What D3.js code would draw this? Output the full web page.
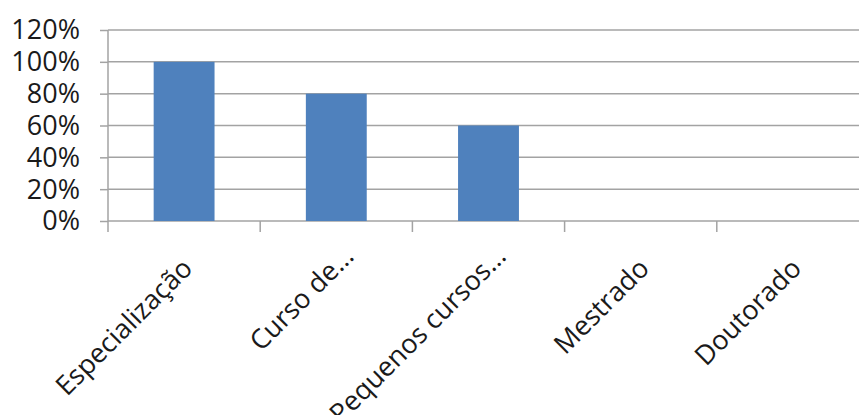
<!DOCTYPE html>
<html><head><meta charset="utf-8">
<script src="https://cdn.jsdelivr.net/npm/d3@7"></script>
<style>body{margin:0;background:#fff;}svg{display:block;}</style>
</head><body>
<script>
const categories = ["Especialização", "Curso de…", "Pequenos cursos…", "Mestrado", "Doutorado"];
const values = [1.0, 0.8, 0.6, 0, 0];
const yTicks = [0, 0.2, 0.4, 0.6, 0.8, 1.0, 1.2];

const W = 859, H = 415;
const mLeft = 108, mTop = 30, mBottom = 221;
const mRight = mLeft + 5 * 152.2;

const svg = d3.select("body").append("svg").attr("width", W).attr("height", H);

const x = d3.scaleBand().domain(categories).range([mLeft, mRight]).paddingInner(0.6).paddingOuter(0.3);
const y = d3.scaleLinear().domain([0, 1.2]).range([mBottom, mTop]);

const font = "'Open Sans', sans-serif";
const fs = 27;

// gridlines
svg.append("g").selectAll("line").data(yTicks).join("line")
  .attr("x1", mLeft).attr("x2", mRight)
  .attr("y1", d => y(d)).attr("y2", d => y(d))
  .attr("stroke", "#a3a3a3").attr("stroke-width", 1.5);

// y axis
const yAxis = d3.axisLeft(y).tickValues(yTicks).tickSize(8).tickPadding(20)
  .tickFormat(d => Math.round(d * 100) + "%");
const gy = svg.append("g").attr("transform", `translate(${mLeft},0)`).call(yAxis);
gy.select(".domain").remove();
gy.selectAll(".tick line").attr("stroke", "#a3a3a3").attr("stroke-width", 1.5);
gy.selectAll(".tick text").attr("font-family", font).attr("font-size", fs).attr("fill", "#1a1a1a").attr("dy", "0.33em");
svg.append("line").attr("x1", mLeft).attr("x2", mLeft).attr("y1", mTop).attr("y2", mBottom + 11)
  .attr("stroke", "#a3a3a3").attr("stroke-width", 1.5);

// category boundary ticks
const step = x.step();
const bounds = d3.range(1, categories.length + 1).map(i => mLeft + i * step);
svg.append("g").selectAll("line").data(bounds).join("line")
  .attr("x1", d => d).attr("x2", d => d).attr("y1", mBottom).attr("y2", mBottom + 11)
  .attr("stroke", "#a3a3a3").attr("stroke-width", 1.5);

// bars
svg.append("g").selectAll("rect").data(values.map((v, i) => ({c: categories[i], v}))).join("rect")
  .attr("x", d => x(d.c)).attr("width", x.bandwidth())
  .attr("y", d => y(d.v)).attr("height", d => mBottom - y(d.v))
  .attr("fill", "#4f81bd");

// category labels
svg.append("g").selectAll("text").data(categories).join("text")
  .attr("transform", d => {
    const trunc = d.endsWith("…");
    const cx = x(d) + x.bandwidth() / 2 + (trunc ? 19 : 10);
    const cy = mBottom + (trunc ? 37 : 49);
    return `translate(${cx},${cy}) rotate(-45)`;
  })
  .attr("text-anchor", "end")
  .attr("font-family", font).attr("font-size", fs).attr("fill", "#1a1a1a")
  .text(d => d);
</script>
</body></html>
